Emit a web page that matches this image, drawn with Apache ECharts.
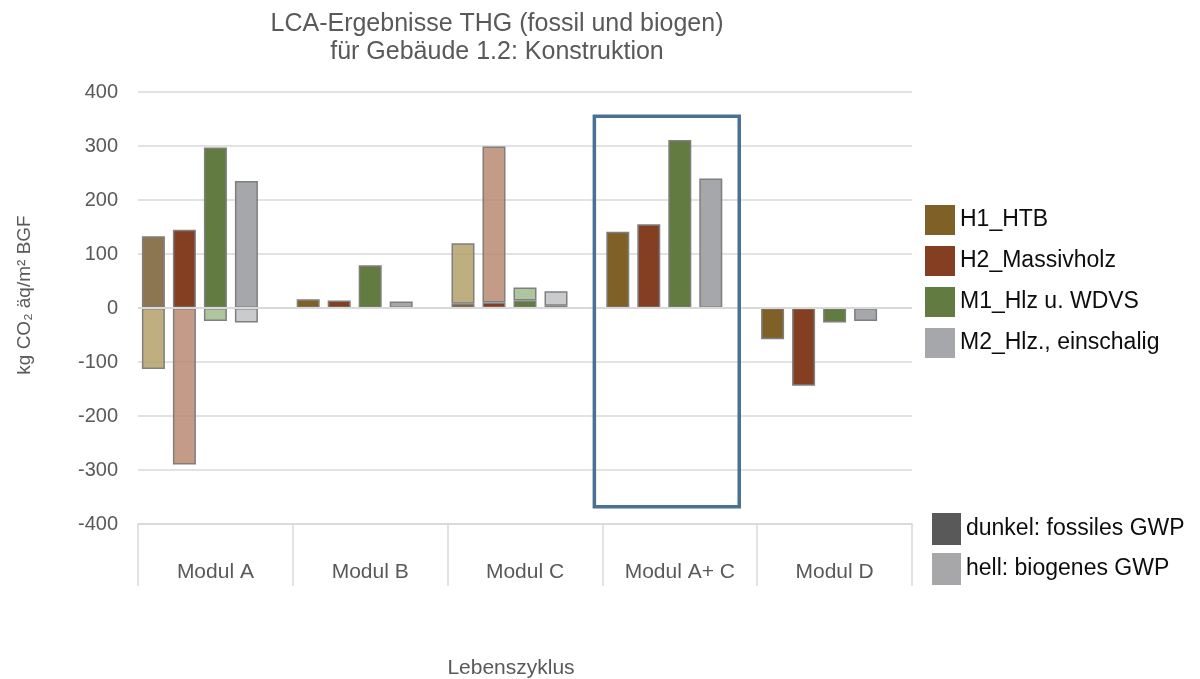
<!DOCTYPE html>
<html>
<head>
<meta charset="utf-8">
<title>LCA-Ergebnisse THG</title>
<script src="https://cdn.jsdelivr.net/npm/echarts@6/dist/echarts.min.js"></script>
<style>
  html, body { margin: 0; padding: 0; background: #fff; }
  #chart { width: 1200px; height: 679px; }
</style>
</head>
<body>
<div id="chart"></div>
<script>
// Lebenszyklus-Module
const modules = ['Modul A', 'Modul B', 'Modul C', 'Modul A+ C', 'Modul D'];
const variants = ['H1_HTB', 'H2_Massivholz', 'M1_Hlz u. WDVS', 'M2_Hlz., einschalig'];

// fossiles GWP (dunkel), je Variante über die Module
const fossilH1 = [133, 16, 8, 141, -58];
const fossilH2 = [145, 14, 10, 155, -144];
const fossilM1 = [297, 79, 14, 311, -27];
const fossilM2 = [235, 12, 4, 240, -24];

// biogenes GWP (hell)
const bioH1 = [-113, null, 112, null, null];
const bioH2 = [-290, null, 289, null, null];
const bioM1 = [-24, null, 24, null, null];
const bioM2 = [-27, null, 27, null, null];

const yTicks = [-400, -300, -200, -100, 0, 100, 200, 300, 400];
const highlightRange = [-368, 355]; // Rahmen um Modul A+ C (Wertebereich)

const fossil = [fossilH1, fossilH2, fossilM1, fossilM2];
const bio    = [bioH1, bioH2, bioM1, bioM2];
const darkColors  = ['#7f6127', '#843f23', '#627b40', '#a6a7aa'];
const lightColors = ['rgba(180,160,106,0.85)', 'rgba(186,138,113,0.85)',
                     'rgba(161,187,140,0.85)', 'rgba(193,194,195,0.85)'];
const moduleAH1Color = '#8b7651';

const FONT = '"Liberation Sans", Arial, sans-serif';
const GREY = '#595959';
const GRID = '#d9d9d9';

const barBase = {
  type: 'bar',
  barWidth: 23,
  barGap: '34.8%',
  itemStyle: { borderColor: '#7f7f7f', borderWidth: 1.5 }
};

const series = [];
variants.forEach((name, i) => {
  series.push(Object.assign({}, barBase, {
    name,
    stack: 's' + i,
    itemStyle: Object.assign({}, barBase.itemStyle, { color: darkColors[i] }),
    data: fossil[i].map((v, k) =>
      (i === 0 && k === 0) ? { value: v, itemStyle: { color: moduleAH1Color } } : v)
  }));
  series.push(Object.assign({}, barBase, {
    name: name + ' (biogen)',
    stack: 's' + i,
    itemStyle: Object.assign({}, barBase.itemStyle, { color: lightColors[i] }),
    data: bio[i]
  }));
});
// leerer fünfter Platz je Modul, trägt die Legende hell/dunkel und die Nulllinie
series.push(Object.assign({}, barBase, {
  name: 'dunkel: fossiles GWP', stack: 's4',
  itemStyle: { color: '#595959' }, data: [],
  markLine: {
    silent: true, symbol: 'none', z: 10,
    label: { show: false },
    lineStyle: { color: GRID, width: 2, type: 'solid' },
    data: [{ yAxis: 0 }]
  }
}));
series.push(Object.assign({}, barBase, {
  name: 'hell: biogenes GWP', stack: 's4',
  itemStyle: { color: '#a7a7aa' }, data: []
}));

const chart = echarts.init(document.getElementById('chart'), null, { renderer: 'canvas' });

chart.setOption({
  animation: false,
  textStyle: { fontFamily: FONT },
  title: {
    text: 'LCA-Ergebnisse THG (fossil und biogen)\nfür Gebäude 1.2: Konstruktion',
    left: 492, top: 5, textAlign: 'center',
    textStyle: { fontFamily: FONT, fontSize: 25, fontWeight: 'normal', color: GREY, lineHeight: 28 }
  },
  grid: { left: 138, right: 288, top: 92, bottom: 155, outerBoundsMode: 'none' },
  legend: [{
    orient: 'vertical', left: 925, top: 205, padding: 0,
    itemWidth: 30, itemHeight: 30, itemGap: 11, icon: 'rect',
    itemStyle: { borderWidth: 0 },
    selectedMode: false,
    textStyle: { fontFamily: FONT, fontSize: 23, color: '#0d0d0d' },
    data: variants
  }, {
    orient: 'vertical', left: 932, top: 513, padding: 0,
    itemWidth: 29, itemHeight: 32, itemGap: 8, icon: 'rect',
    itemStyle: { borderWidth: 0 },
    selectedMode: false,
    textStyle: { fontFamily: FONT, fontSize: 23, color: '#0d0d0d' },
    data: ['dunkel: fossiles GWP', 'hell: biogenes GWP']
  }],
  xAxis: {
    type: 'category',
    data: modules,
    name: 'Lebenszyklus',
    nameLocation: 'middle',
    nameGap: 134,
    nameTextStyle: { fontFamily: FONT, fontSize: 21, color: GREY, padding: [0, 28, 0, 0] },
    axisLine: { onZero: false, lineStyle: { color: GRID, width: 1.5 } },
    axisTick: { show: true, length: 62, interval: 0, lineStyle: { color: GRID, width: 1.5 } },
    axisLabel: { interval: 0, margin: 38, fontSize: 21, color: GREY, fontFamily: FONT }
  },
  yAxis: {
    type: 'value',
    min: yTicks[0], max: yTicks[yTicks.length - 1], interval: 100,
    name: 'kg CO₂ äq/m² BGF',
    nameLocation: 'middle',
    nameRotate: 90,
    nameGap: 104,
    nameTextStyle: { fontFamily: FONT, fontSize: 19, color: GREY, padding: [0, 0, 0, 26] },
    axisLine: { show: false },
    axisTick: { show: false },
    splitLine: { lineStyle: { color: GRID, width: 1.5 } },
    axisLabel: { margin: 20, fontSize: 20, color: GREY, fontFamily: FONT }
  },
  series
});

// Rahmen um "Modul A+ C"
function drawFrame() {
  const band = chart.getWidth() - 138 - 288;
  const w = band / modules.length;
  const cx = chart.convertToPixel({ xAxisIndex: 0 }, 'Modul A+ C');
  const yTop = chart.convertToPixel({ yAxisIndex: 0 }, highlightRange[1]);
  const yBot = chart.convertToPixel({ yAxisIndex: 0 }, highlightRange[0]);
  const x0 = cx - 0.552 * w, x1 = cx + 0.384 * w;
  chart.setOption({
    graphic: [{
      type: 'rect', z: 20, silent: true,
      shape: { x: x0, y: yTop, width: x1 - x0, height: yBot - yTop },
      style: { fill: 'none', stroke: '#4a7096', lineWidth: 3.5 }
    }]
  });
}
drawFrame();
</script>
</body>
</html>
